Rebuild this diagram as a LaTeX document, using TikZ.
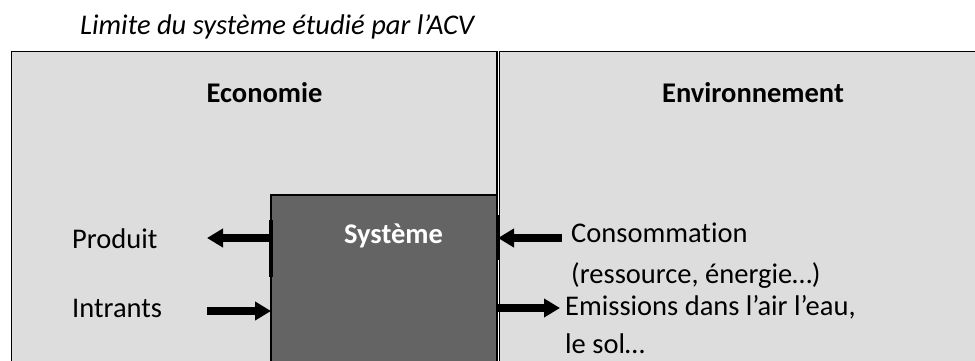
\documentclass[tikz,border=0pt]{standalone}
\usepackage{fontspec}
\setmainfont{Carlito}[Ligatures=NoCommon]
\usetikzlibrary{arrows.meta}
\definecolor{zonefill}{HTML}{DDDDDD}
\definecolor{sysfill}{HTML}{646464}
\tikzset{
  zone/.style={draw=black, line width=1.6pt, fill=zonefill},
  sysbox/.style={draw=black, line width=1.2pt, fill=sysfill},
  lbl/.style={anchor=base west, inner sep=0pt, font=\fontsize{28.5}{34}\selectfont},
  head/.style={anchor=base, inner sep=0pt, font=\fontsize{28.5}{34}\selectfont\bfseries},
  flow/.style={line width=8pt, -{Triangle[length=16pt,width=18pt]}},
  edgebar/.style={line width=3.5pt}
}
\begin{document}
\begin{tikzpicture}[x=1pt,y=-1pt]
  \useasboundingbox (0,0) rectangle (975,360);
  % title
  \node[lbl, font=\fontsize{28.5}{34}\selectfont\itshape] (title) at (80,34) {Limite du système étudié par l’ACV};
  % the two domains
  \draw[zone] (11.5,51.5) rectangle (497,380);
  \draw[zone] (499.4,51.5) rectangle (1010,380);
  \node[head] (eco) at (264.5,102) {Economie};
  \node[head] (env) at (753,102) {Environnement};
  % the studied system
  \draw[sysbox] (271,195) rectangle (497,380);
  \coordinate (sysW) at (271,238);
  \coordinate (sysE) at (498,238);
  \node[head, text=white] (sys) at (393.5,243) {Système};
  \draw[edgebar] (271,220) -- (271,277);
  \draw[edgebar] (498.5,215) -- (498.5,260);
  % flows on the economy side
  \node[lbl] (prod) at (72,248) {Produit};
  \node[lbl] (intr) at (72,317) {Intrants};
  \coordinate (prodTip) at (207,238);
  \coordinate (intrTail) at (207,311);
  \coordinate (intrTip) at (271,311);
  \draw[flow] (sysW) -- (prodTip);
  \draw[flow] (intrTail) -- (intrTip);
  % flows on the environment side
  \node[lbl] (cons) at (571,242) {Consommation};
  \node[lbl] (cons2) at (571,283) {(ressource, énergie…)};
  \node[lbl] (emis) at (565,315) {Emissions dans l’air l’eau,};
  \node[lbl] (emis2) at (565,353) {le sol…};
  \coordinate (consTail) at (562,238);
  \coordinate (emisTail) at (496,308);
  \coordinate (emisTip) at (560,308);
  \draw[flow] (consTail) -- (sysE);
  \draw[flow] (emisTail) -- (emisTip);
\end{tikzpicture}
\end{document}
